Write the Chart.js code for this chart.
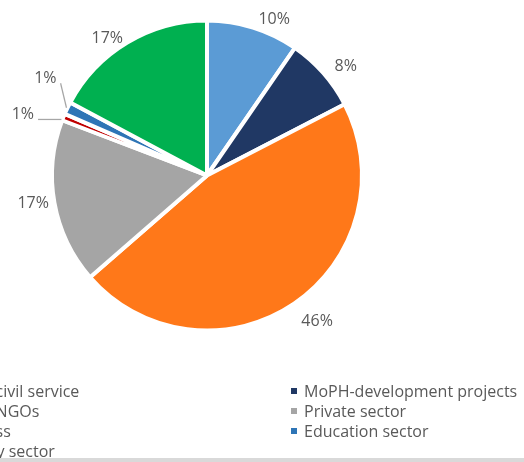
<!DOCTYPE html>
<html>
<head>
<meta charset="utf-8">
<script src="https://cdn.jsdelivr.net/npm/chart.js@4"></script>
<style>
  html, body { margin: 0; padding: 0; background: #ffffff; }
  #wrap { position: relative; width: 524px; height: 462px; overflow: hidden; background: #ffffff; }
  #chart { position: absolute; left: 0; top: 0; }
  #legend { position: absolute; top: 380.5px; left: -68px; display: grid; grid-template-columns: 359px auto; }
  .item { height: 20px; display: flex; align-items: center; white-space: nowrap;
          font-family: 'Open Sans', sans-serif; font-size: 16px; color: #595959; }
  .sw { width: 6px; height: 6px; margin-right: 7px; flex: none; }
  #band { position: absolute; left: 0; top: 458px; width: 524px; height: 4px; background: #d9d9d9; }
</style>
</head>
<body>
<div id="wrap">
  <canvas id="chart" width="524" height="462"></canvas>
  <div id="legend"></div>
  <div id="band"></div>
</div>
<script>
// ---- data ----
const categories = ["MoPH-civil service", "MoPH-development projects", "MoPH-NGOs", "Private sector", "Business", "Education sector", "Security sector"];
const shares = [9.6, 7.8, 46.2, 17.2, 0.7, 1.3, 17.2];
const percentLabels = ["10%", "8%", "46%", "17%", "1%", "1%", "17%"];
const sliceColors = ["#5B9BD5", "#203864", "#FF7819", "#A5A5A5", "#C00000", "#2E75B6", "#00B050"];

// ---- label placement (styling, not data): angle shift (deg), radial gap (px), leader line ----
const labelPlacement = [
  { da: 6.0,  dr: 17,   leader: null },
  { da: 3.2,  dr: 23.5, leader: null },
  { da: -2.8, dr: 30,   leader: null },
  { da: 1.1,  dr: 23,   leader: null },
  { da: -3.8, dr: 41,   leader: 'horizontal' },
  { da: 5.3,  dr: 35.6, leader: 'radial' },
  { da: -5.0, dr: 16.8, leader: null }
];

const LABEL_FONT = "16px 'Open Sans', sans-serif";
const TEXT_COLOR = "#595959";

const pieLabels = {
  id: 'pieLabels',
  afterDatasetsDraw(chart) {
    const ctx = chart.ctx;
    const meta = chart.getDatasetMeta(0);
    ctx.save();
    ctx.font = LABEL_FONT;
    ctx.textAlign = 'center';
    ctx.textBaseline = 'middle';
    meta.data.forEach((arc, i) => {
      const p = labelPlacement[i];
      const mid = (arc.startAngle + arc.endAngle) / 2;
      const a = mid + p.da * Math.PI / 180;
      const rVis = arc.outerRadius - 2;
      const R = rVis + p.dr;
      const lx = arc.x + R * Math.cos(a);
      const ly = arc.y + R * Math.sin(a);
      if (p.leader) {
        const w = ctx.measureText(percentLabels[i]).width;
        const sx = lx + w / 2 + 4, sy = ly + 5;
        const rl = rVis + 3;
        let ex, ey;
        if (p.leader === 'horizontal') {
          ey = sy;
          ex = arc.x - Math.sqrt(Math.max(rl * rl - (sy - arc.y) * (sy - arc.y), 0));
        } else {
          ex = arc.x + rl * Math.cos(mid);
          ey = arc.y + rl * Math.sin(mid);
        }
        ctx.strokeStyle = '#A6A6A6';
        ctx.lineWidth = 1.25;
        ctx.beginPath();
        ctx.moveTo(sx, sy);
        ctx.lineTo(ex, ey);
        ctx.stroke();
      }
      ctx.fillStyle = TEXT_COLOR;
      ctx.fillText(percentLabels[i], lx, ly);
    });
    ctx.restore();
  }
};

const chart = new Chart(document.getElementById('chart'), {
  type: 'pie',
  data: {
    labels: categories,
    datasets: [{
      data: shares,
      backgroundColor: sliceColors,
      borderColor: '#ffffff',
      borderWidth: 4
    }]
  },
  options: {
    responsive: false,
    animation: false,
    radius: 155,
    rotation: 0,
    layout: { padding: { left: 0, right: 110, top: 0, bottom: 111 } },
    plugins: {
      legend: { display: false },
      tooltip: { enabled: false }
    },
    events: []
  },
  plugins: [pieLabels]
});

// ---- HTML legend built from the chart's own legend items (two columns) ----
const legendEl = document.getElementById('legend');
chart.options.plugins.legend.labels.generateLabels(chart).forEach(item => {
  const div = document.createElement('div');
  div.className = 'item';
  const sw = document.createElement('span');
  sw.className = 'sw';
  sw.style.background = item.fillStyle;
  const tx = document.createElement('span');
  tx.textContent = item.text;
  div.appendChild(sw);
  div.appendChild(tx);
  legendEl.appendChild(div);
});
</script>
</body>
</html>
